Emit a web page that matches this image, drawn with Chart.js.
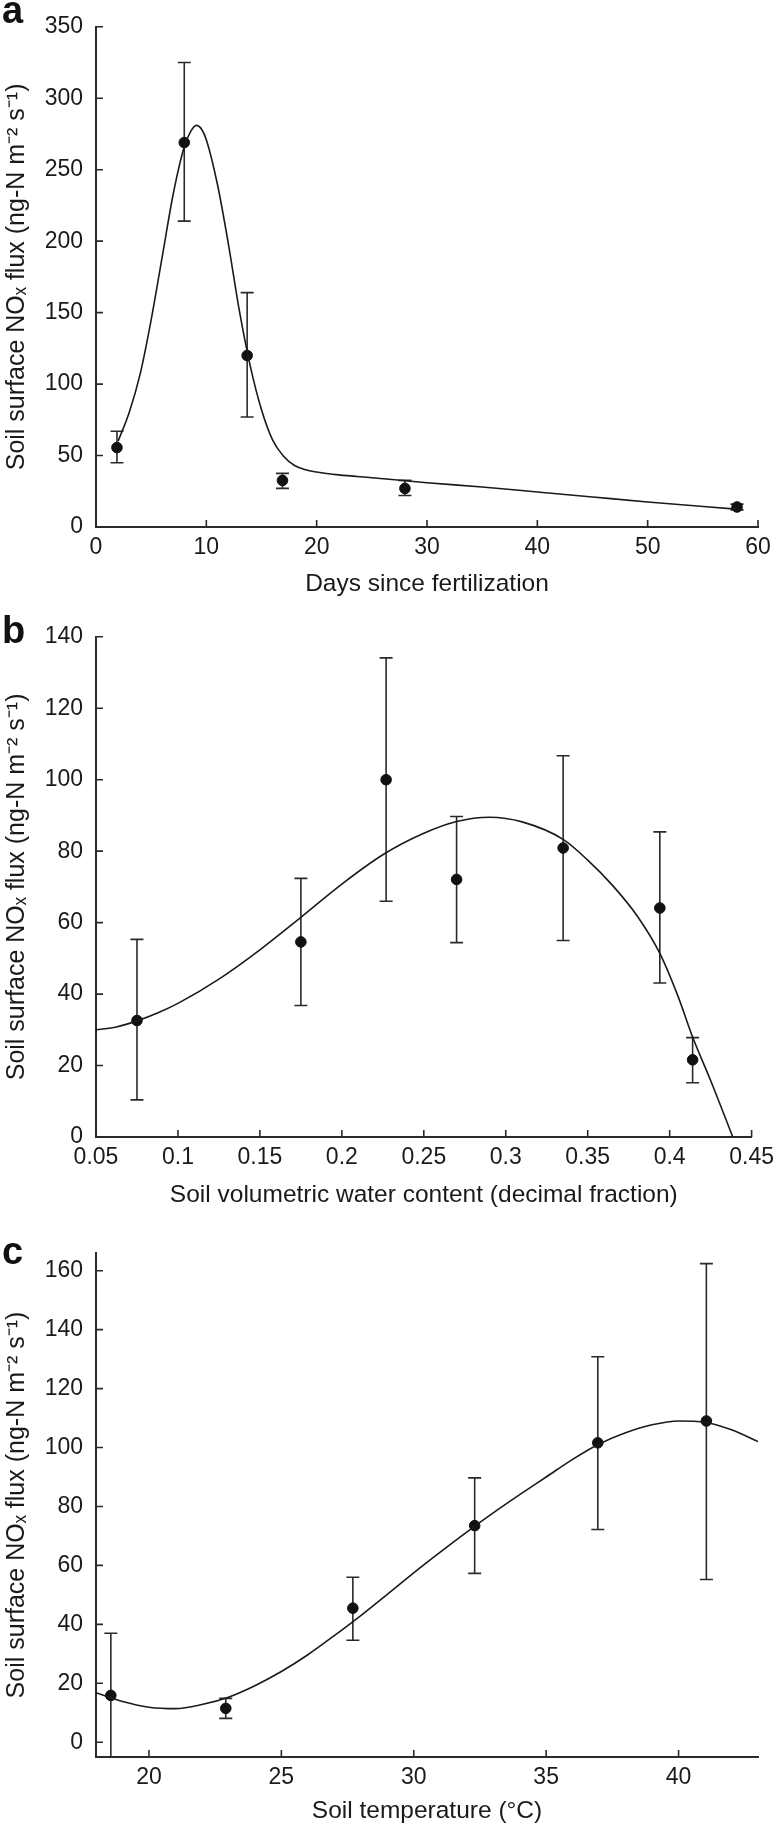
<!DOCTYPE html>
<html>
<head>
<meta charset="utf-8">
<script src="https://cdn.jsdelivr.net/npm/chart.js@4.4.1/dist/chart.umd.min.js"></script>
<style>
  body { margin: 0; background: #fff; width: 781px; height: 1826px; position: relative; overflow: hidden; font-family: "Liberation Sans", Arial, sans-serif; }
  .panel { position: absolute; left: 0; width: 781px; }
  .tag { position: absolute; left: 2px; font-weight: bold; font-size: 38px; line-height: 38px; color: #111; }
</style>
</head>
<body>
<div class="panel" style="top:0;height:610px"><canvas id="chartA"></canvas></div>
<div class="panel" style="top:610px;height:610px"><canvas id="chartB"></canvas></div>
<div class="panel" style="top:1220px;height:606px"><canvas id="chartC"></canvas></div>
<div class="tag" style="top:-9px">a</div>
<div class="tag" style="top:611px">b</div>
<div class="tag" style="top:1232px">c</div>
<script>
// (a) flux vs days since fertilization
const daysA = [1.9, 8.0, 13.7, 16.9, 28.0, 58.1];
const fluxA = [55.6, 269, 120, 32.6, 27, 14];
const lowA = [45, 214, 77, 27, 22, 12];
const highA = [67, 325, 164, 37.5, 32.6, 16];
const fitDaysA = [2, 3, 4, 5, 6, 7, 8, 8.6, 9.1, 9.6, 10, 11, 12, 13, 14, 15, 16, 17, 18, 19, 20, 22, 25, 30, 35, 40, 45, 50, 58];
const fitFluxA = [60, 80, 107, 145, 189, 233, 266, 277, 281, 278, 271, 240, 198, 151, 112, 82, 61, 49.5, 43, 40, 38.5, 36.5, 34.5, 31, 28, 24.5, 21, 17.5, 12.5];
const xTicksA = [0, 10, 20, 30, 40, 50, 60];
const yTicksA = [0, 50, 100, 150, 200, 250, 300, 350];

// (b) flux vs soil water content
const waterB = [0.075, 0.175, 0.227, 0.270, 0.335, 0.394, 0.414];
const fluxB = [32.6, 54.6, 100, 72.1, 80.9, 64.1, 21.6];
const lowB = [10.4, 36.8, 66, 54.4, 55, 43.1, 15.2];
const highB = [55.3, 72.4, 134.1, 89.7, 106.7, 85.4, 27.8];
const fitWaterB = [0.05, 0.0625, 0.075, 0.0875, 0.1, 0.125, 0.15, 0.175, 0.2, 0.225, 0.25, 0.27, 0.29, 0.31, 0.335, 0.35, 0.365, 0.38, 0.394, 0.405, 0.414, 0.425, 0.4385];
const fitFluxB = [30, 30.8, 32.5, 34.7, 37.4, 44.2, 52.4, 61.5, 70.8, 79, 85, 88.3, 89.5, 88.2, 83.3, 77.5, 70.5, 62, 51.4, 39.5, 28, 15.8, 0];
const xTicksB = [0.05, 0.1, 0.15, 0.2, 0.25, 0.3, 0.35, 0.4, 0.45];
const yTicksB = [0, 20, 40, 60, 80, 100, 120, 140];

// (c) flux vs soil temperature
const tempC = [18.56, 22.9, 27.7, 32.3, 36.95, 41.05];
const fluxC = [15.9, 11.5, 45.5, 73.5, 101.6, 109];
const lowC = [-5, 8.1, 34.6, 57.3, 72.2, 55.2];
const highC = [37, 14.9, 56, 89.7, 130.8, 162.4];
const fitTempC = [18, 19, 20, 21, 22, 23, 24, 25, 26, 27, 28, 29, 30, 31, 32, 33, 34, 35, 36, 37, 38, 39, 40, 41, 42, 43];
const fitFluxC = [16.8, 13.8, 11.9, 11.4, 12.8, 15.3, 19.2, 24, 29.7, 36.2, 43, 50.2, 57.5, 64.5, 71.3, 77.8, 84, 90, 96, 101.2, 105, 107.7, 109, 108.6, 106, 102];
const xTicksC = [20, 25, 30, 35, 40];
const yTicksC = [0, 20, 40, 60, 80, 100, 120, 140, 160];

const yTitle = 'Soil surface NO\u2093 flux (ng-N m\u207B\u00B2 s\u207B\u00B9)';
const ink = '#1a1a1a';

Chart.defaults.font.family = '"Liberation Sans", Arial, sans-serif';
Chart.defaults.color = ink;

// error bars under the points, clipped to the plot
const errorBars = {
  id: 'errorBars',
  beforeDatasetsDraw(chart, args, opts) {
    const {ctx, chartArea, scales} = chart;
    ctx.save();
    ctx.beginPath();
    ctx.rect(chartArea.left, chartArea.top - 2, chartArea.width, chartArea.height + 2);
    ctx.clip();
    ctx.strokeStyle = '#2a2a2a';
    ctx.lineWidth = 1.6;
    opts.x.forEach((v, i) => {
      const px = scales.x.getPixelForValue(v);
      const lo = scales.y.getPixelForValue(opts.low[i]);
      const hi = scales.y.getPixelForValue(opts.high[i]);
      ctx.beginPath();
      ctx.moveTo(px, lo); ctx.lineTo(px, hi);
      ctx.moveTo(px - 6.5, hi); ctx.lineTo(px + 6.5, hi);
      ctx.moveTo(px - 6.5, lo); ctx.lineTo(px + 6.5, lo);
      ctx.stroke();
    });
    ctx.restore();
  }
};

// tick marks pointing into the plot
const innerTicks = {
  id: 'innerTicks',
  afterDraw(chart) {
    const {ctx, chartArea, scales} = chart;
    ctx.save();
    ctx.strokeStyle = '#2a2a2a';
    ctx.lineWidth = 1.6;
    ctx.beginPath();
    scales.x.ticks.forEach(t => {
      const px = scales.x.getPixelForValue(t.value);
      ctx.moveTo(px, chartArea.bottom); ctx.lineTo(px, chartArea.bottom - 7);
    });
    scales.y.ticks.forEach(t => {
      const py = scales.y.getPixelForValue(t.value);
      ctx.moveTo(chartArea.left, py); ctx.lineTo(chartArea.left + 7, py);
    });
    ctx.stroke();
    ctx.restore();
  }
};

function makePanel(id, p) {
  return new Chart(document.getElementById(id), {
    type: 'scatter',
    data: {
      datasets: [{
        type: 'line',
        data: p.fitX.map((x, i) => ({x: x, y: p.fitY[i]})),
        borderColor: ink,
        borderWidth: 1.6,
        pointRadius: 0,
        fill: false,
        cubicInterpolationMode: 'monotone'
      }, {
        data: p.x.map((x, i) => ({x: x, y: p.y[i]})),
        backgroundColor: '#111',
        borderColor: '#111',
        pointRadius: 5.3
      }]
    },
    options: {
      responsive: true,
      maintainAspectRatio: false,
      animation: false,
      events: [],
      layout: { padding: { top: p.padTop, right: 23, left: 0, bottom: 0 } },
      plugins: {
        legend: { display: false },
        tooltip: { enabled: false },
        errorBars: { x: p.x, low: p.low, high: p.high }
      },
      scales: {
        x: {
          type: 'linear',
          min: p.xMin,
          max: p.xMax,
          afterBuildTicks: s => { s.ticks = p.xTicks.map(v => ({value: v})); },
          afterFit: s => { s.height = p.xHeight; },
          ticks: { padding: 7, font: { size: 23 }, callback: v => String(+v.toFixed(2)) },
          grid: { display: false, drawTicks: false },
          border: { display: true, color: '#2a2a2a', width: 2 },
          title: { display: true, text: p.xTitle, font: { size: 24.5 }, padding: { top: 0, bottom: p.titlePad } }
        },
        y: {
          type: 'linear',
          min: p.yMin,
          max: p.yMax,
          afterBuildTicks: s => { s.ticks = p.yTicks.map(v => ({value: v})); },
          afterFit: s => { s.width = 96; },
          ticks: { padding: 13, font: { size: 23 } },
          grid: { display: false, drawTicks: false },
          border: { display: true, color: '#2a2a2a', width: 2 },
          title: { display: true, text: yTitle, font: { size: 25 }, padding: { top: 2, bottom: 0 } }
        }
      }
    },
    plugins: [errorBars, innerTicks]
  });
}

makePanel('chartA', {
  x: daysA, y: fluxA, low: lowA, high: highA, fitX: fitDaysA, fitY: fitFluxA,
  xMin: 0, xMax: 60, yMin: 0, yMax: 350, xTicks: xTicksA, yTicks: yTicksA,
  padTop: 23, xHeight: 83, titlePad: 11, xTitle: 'Days since fertilization'
});

makePanel('chartB', {
  x: waterB, y: fluxB, low: lowB, high: highB, fitX: fitWaterB, fitY: fitFluxB,
  xMin: 0.05, xMax: 0.45, yMin: 0, yMax: 140, xTicks: xTicksB, yTicks: yTicksB,
  padTop: 25, xHeight: 83, titlePad: 10, xTitle: 'Soil volumetric water content (decimal fraction)'
});

makePanel('chartC', {
  x: tempC, y: fluxC, low: lowC, high: highC, fitX: fitTempC, fitY: fitFluxC,
  xMin: 18, xMax: 43, yMin: -5, yMax: 166, xTicks: xTicksC, yTicks: yTicksC,
  padTop: 33, xHeight: 69, titlePad: 0, xTitle: 'Soil temperature (\u00B0C)'
});
</script>
</body>
</html>
